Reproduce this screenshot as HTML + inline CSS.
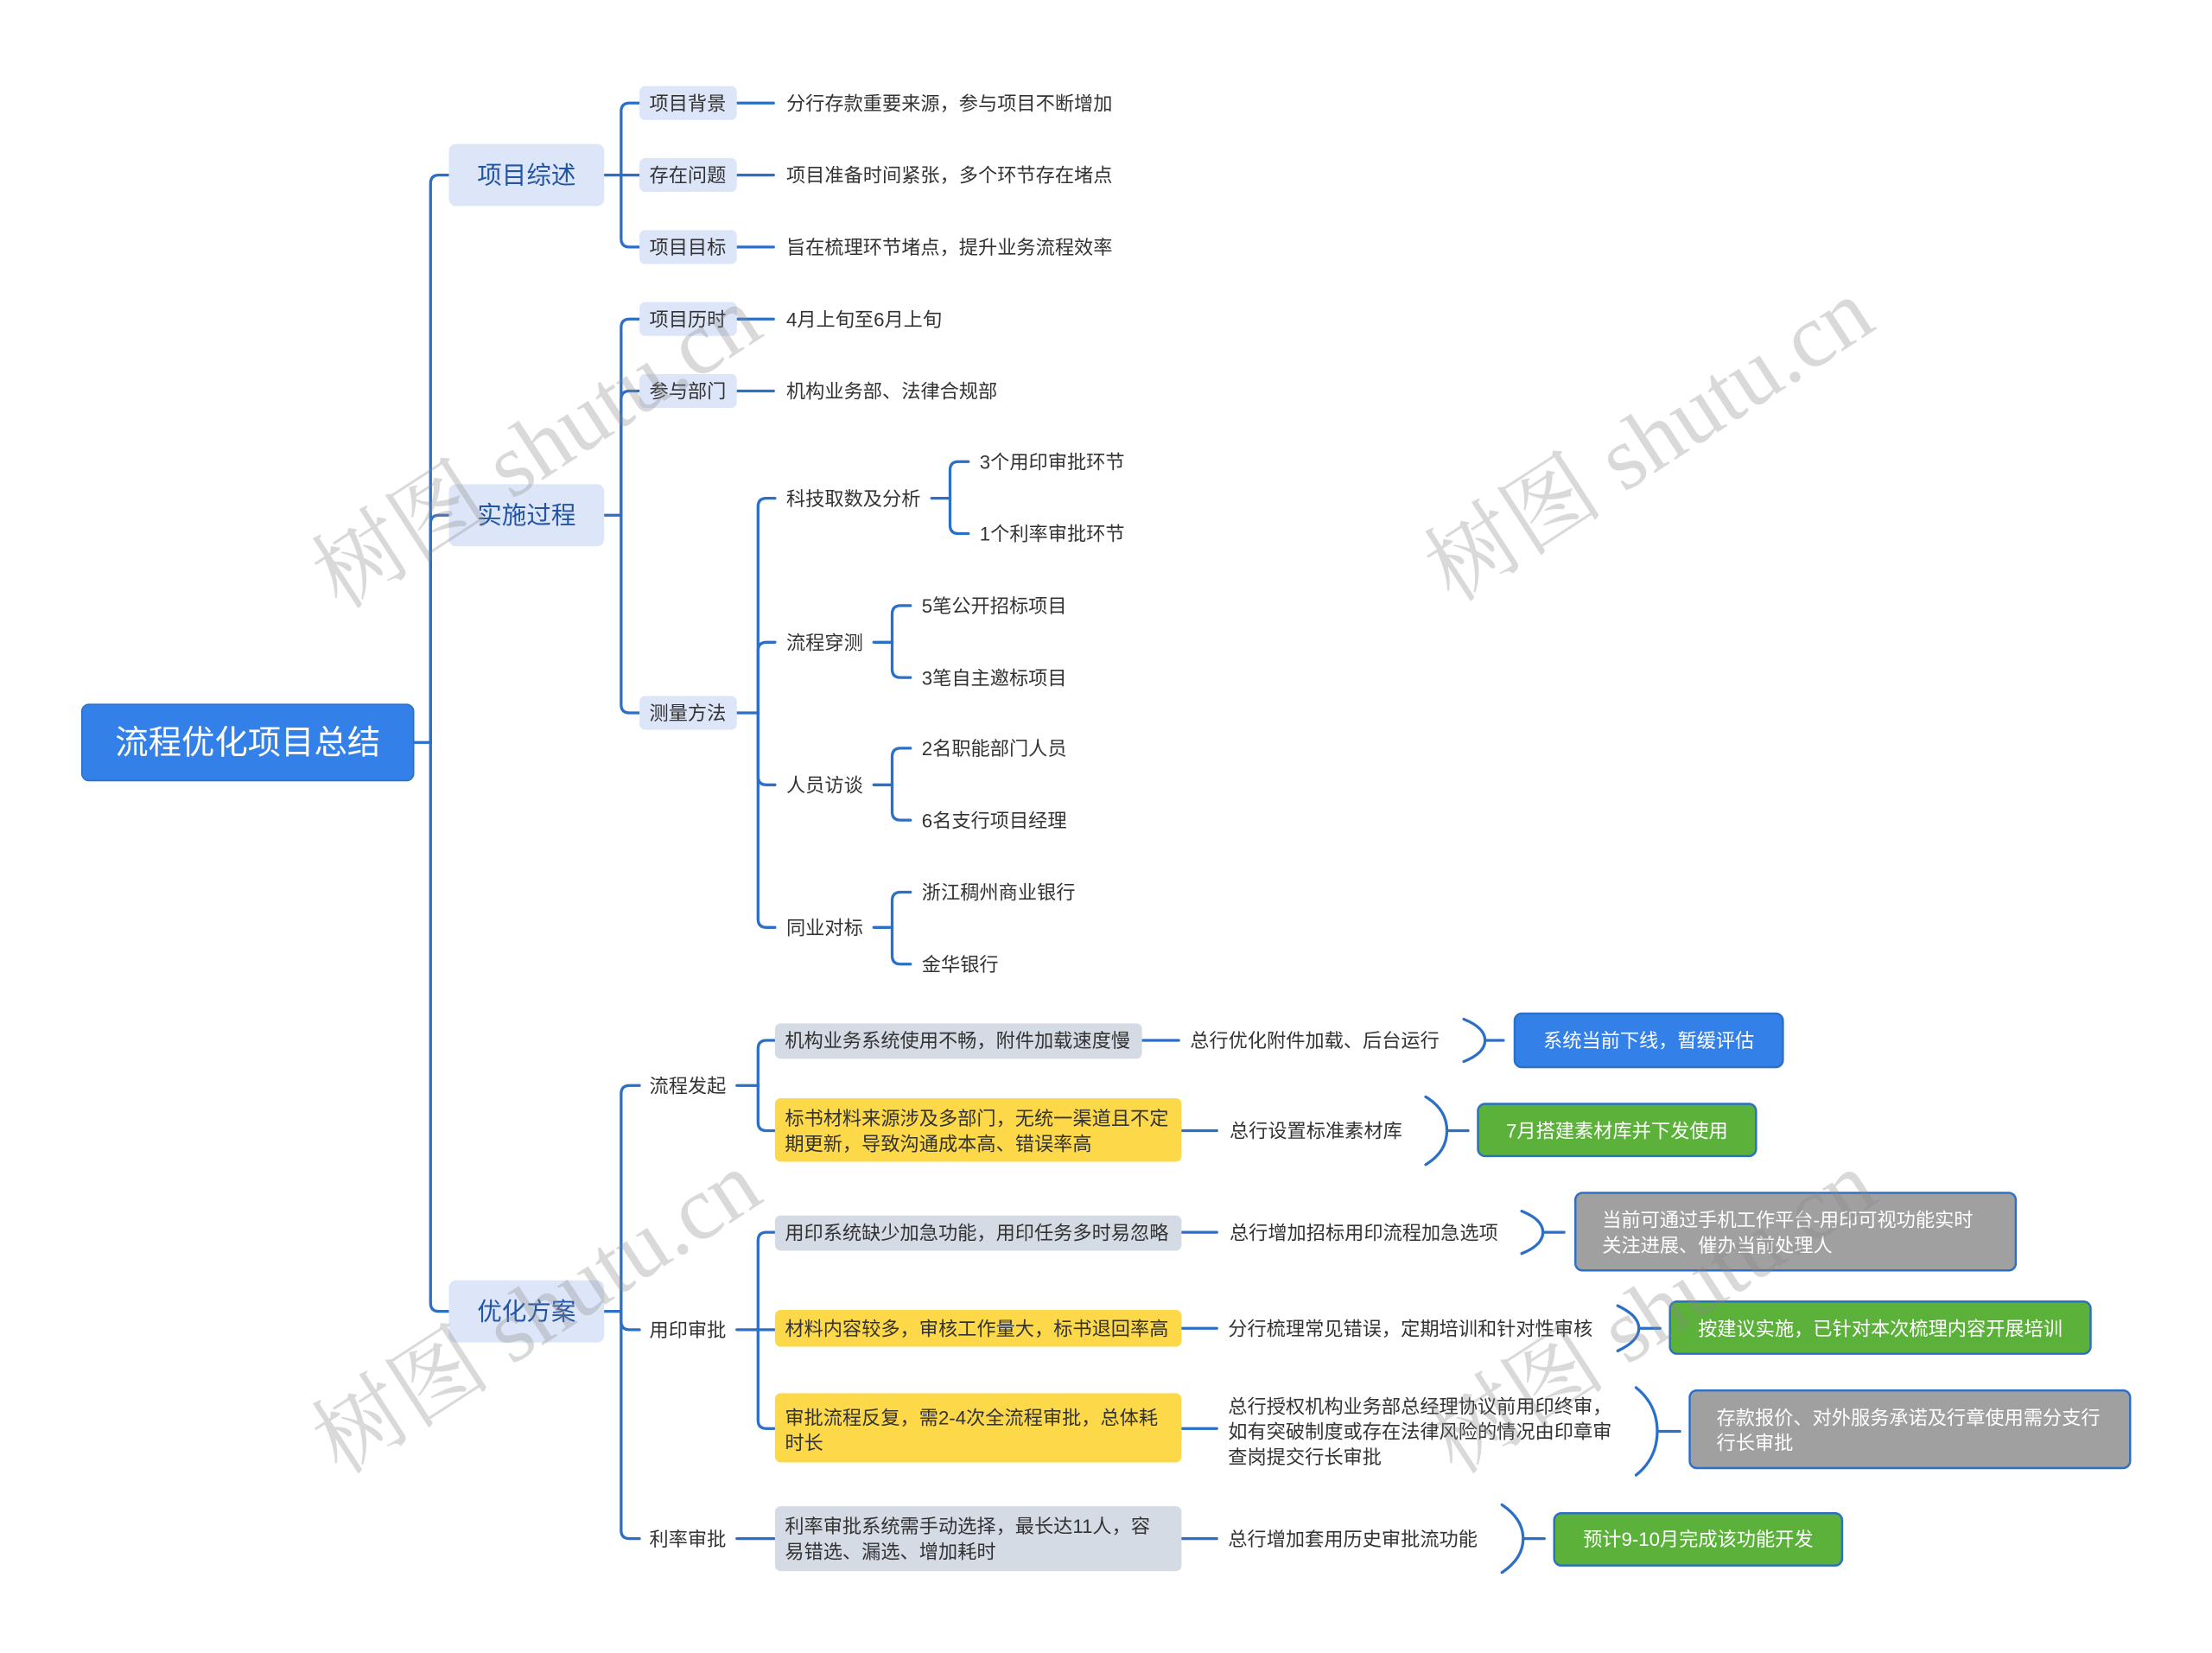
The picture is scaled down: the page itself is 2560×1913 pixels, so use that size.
<!DOCTYPE html>
<html><head><meta charset="utf-8"><style>
html,body{margin:0;padding:0;background:#fff;}
svg{display:block;}
text{font-family:"Liberation Sans","Noto Sans CJK SC",sans-serif;}
</style></head><body>
<svg width="2560" height="1913" viewBox="0 0 1567 1171" preserveAspectRatio="none" xmlns="http://www.w3.org/2000/svg">
<rect width="1600" height="1200" fill="#fff"/>
<g fill="none" stroke="#2b6fc7" stroke-width="2" stroke-linecap="round">
<path d="M293 526 L305 526"/>
<path d="M305 526 L305 130 Q305 124 311 124 L318 124"/>
<path d="M305 526 L305 371 Q305 365 311 365 L318 365"/>
<path d="M305 526 L305 923 Q305 929 311 929 L318 929"/>
<path d="M428 124 L440 124"/>
<path d="M440 124 L440 79 Q440 73 446 73 L453 73"/>
<path d="M440 124 L453 124"/>
<path d="M440 124 L440 169 Q440 175 446 175 L453 175"/>
<path d="M522 73 L548 73"/><path d="M522 124 L548 124"/><path d="M522 175 L548 175"/>
<path d="M428 365 L440 365"/>
<path d="M440 365 L440 232 Q440 226 446 226 L453 226"/>
<path d="M440 365 L440 283 Q440 277 446 277 L453 277"/>
<path d="M440 365 L440 499 Q440 505 446 505 L453 505"/>
<path d="M522 226 L548 226"/><path d="M522 277 L548 277"/>
<path d="M522 505 L537 505"/>
<path d="M537 505 L537 359 Q537 353 543 353 L549 353"/>
<path d="M537 505 L537 461 Q537 455 543 455 L549 455"/>
<path d="M537 505 L537 550 Q537 556 543 556 L549 556"/>
<path d="M537 505 L537 651 Q537 657 543 657 L549 657"/>
<path d="M660 353 L673 353"/>
<path d="M673 353 L673 333 Q673 327 679 327 L686 327"/>
<path d="M673 353 L673 372 Q673 378 679 378 L686 378"/>
<path d="M619 455 L632 455"/>
<path d="M632 455 L632 435 Q632 429 638 429 L645 429"/>
<path d="M632 455 L632 474 Q632 480 638 480 L645 480"/>
<path d="M619 556 L632 556"/>
<path d="M632 556 L632 536 Q632 530 638 530 L645 530"/>
<path d="M632 556 L632 575 Q632 581 638 581 L645 581"/>
<path d="M619 657 L632 657"/>
<path d="M632 657 L632 638 Q632 632 638 632 L645 632"/>
<path d="M632 657 L632 677 Q632 683 638 683 L645 683"/>
<path d="M428 929 L440 929"/>
<path d="M440 929 L440 775 Q440 769 446 769 L453 769"/>
<path d="M440 929 L440 936 Q440 942 446 942 L453 942"/>
<path d="M440 929 L440 1084 Q440 1090 446 1090 L453 1090"/>
<path d="M522 769 L537 769"/>
<path d="M537 769 L537 743 Q537 737 543 737 L549 737"/>
<path d="M537 769 L537 795 Q537 801 543 801 L549 801"/>
<path d="M522 942 L537 942"/>
<path d="M537 942 L537 879 Q537 873 543 873 L549 873"/>
<path d="M537 942 L549 942"/>
<path d="M537 942 L537 1006 Q537 1012 543 1012 L549 1012"/>
<path d="M522 1090 L549 1090"/>
<path d="M809 737 L835 737"/><path d="M837 801 L862 801"/>
<path d="M837 873 L862 873"/><path d="M837 941 L862 941"/>
<path d="M837 1012 L862 1012"/><path d="M837 1090 L862 1090"/>
<path d="M1037 722 Q1052 728 1052 737 Q1052 746 1037 752 M1052 737 L1065 737"/>
<path d="M1010 777 Q1025 786 1025 801 Q1025 816 1010 825 M1025 801 L1040 801"/>
<path d="M1078 858 Q1093 864 1093 873 Q1093 882 1078 888 M1093 873 L1108 873"/>
<path d="M1146 925 Q1161 932 1161 941 Q1161 950 1146 957 M1161 941 L1176 941"/>
<path d="M1159 983 Q1174 995 1174 1014 Q1174 1033 1159 1045 M1174 1014 L1190 1014"/>
<path d="M1064 1066 Q1079 1076 1079 1090 Q1079 1104 1064 1114 M1079 1090 L1094 1090"/>
</g>

<rect x="58" y="499" width="235" height="54" rx="5" fill="#3380e8" stroke="#2b6fc7"/>
<text x="175.5" y="534" font-size="23.5" fill="#fff" text-anchor="middle">流程优化项目总结</text>

<g fill="#dde6f8">
<rect x="318" y="102" width="110" height="44" rx="5"/>
<rect x="318" y="343" width="110" height="44" rx="5"/>
<rect x="318" y="907" width="110" height="44" rx="5"/>
</g>
<g font-size="17.5" fill="#2255a4" text-anchor="middle">
<text x="373" y="130">项目综述</text>
<text x="373" y="371">实施过程</text>
<text x="373" y="935">优化方案</text>
</g>

<g fill="#dde6f8">
<rect x="453" y="61" width="69" height="24" rx="4"/>
<rect x="453" y="112" width="69" height="24" rx="4"/>
<rect x="453" y="163" width="69" height="24" rx="4"/>
<rect x="453" y="214" width="69" height="24" rx="4"/>
<rect x="453" y="265" width="69" height="24" rx="4"/>
<rect x="453" y="493" width="69" height="24" rx="4"/>
</g>
<g font-size="13.6" fill="#333">
<text x="460" y="78">项目背景</text>
<text x="460" y="129">存在问题</text>
<text x="460" y="180">项目目标</text>
<text x="460" y="231">项目历时</text>
<text x="460" y="282">参与部门</text>
<text x="460" y="510">测量方法</text>
<text x="557" y="78">分行存款重要来源，参与项目不断增加</text>
<text x="557" y="129">项目准备时间紧张，多个环节存在堵点</text>
<text x="557" y="180">旨在梳理环节堵点，提升业务流程效率</text>
<text x="557" y="231">4月上旬至6月上旬</text>
<text x="557" y="282">机构业务部、法律合规部</text>
<text x="557" y="358">科技取数及分析</text>
<text x="557" y="460">流程穿测</text>
<text x="557" y="561">人员访谈</text>
<text x="557" y="662">同业对标</text>
<text x="694" y="332">3个用印审批环节</text>
<text x="694" y="383">1个利率审批环节</text>
<text x="653" y="434">5笔公开招标项目</text>
<text x="653" y="485">3笔自主邀标项目</text>
<text x="653" y="535">2名职能部门人员</text>
<text x="653" y="586">6名支行项目经理</text>
<text x="653" y="637">浙江稠州商业银行</text>
<text x="653" y="688">金华银行</text>
<text x="460" y="774">流程发起</text>
<text x="460" y="947">用印审批</text>
<text x="460" y="1095">利率审批</text>
</g>

<rect x="549" y="725" width="260" height="25" rx="4" fill="#d5dbe5"/>
<rect x="549" y="778" width="288" height="45" rx="4" fill="#fdd94a"/>
<rect x="549" y="861" width="288" height="25" rx="4" fill="#d5dbe5"/>
<rect x="549" y="928" width="288" height="26" rx="4" fill="#fdd94a"/>
<rect x="549" y="987" width="288" height="49" rx="4" fill="#fdd94a"/>
<rect x="549" y="1067" width="288" height="46" rx="4" fill="#d5dbe5"/>
<g font-size="13.6" fill="#333">
<text x="556" y="742">机构业务系统使用不畅，附件加载速度慢</text>
<text x="556" y="797">标书材料来源涉及多部门，无统一渠道且不定</text>
<text x="556" y="815">期更新，导致沟通成本高、错误率高</text>
<text x="556" y="878">用印系统缺少加急功能，用印任务多时易忽略</text>
<text x="556" y="946">材料内容较多，审核工作量大，标书退回率高</text>
<text x="556" y="1009">审批流程反复，需2-4次全流程审批，总体耗</text>
<text x="556" y="1027">时长</text>
<text x="556" y="1086">利率审批系统需手动选择，最长达11人，容</text>
<text x="556" y="1104">易错选、漏选、增加耗时</text>
<text x="843" y="742">总行优化附件加载、后台运行</text>
<text x="871" y="806">总行设置标准素材库</text>
<text x="871" y="878">总行增加招标用印流程加急选项</text>
<text x="870" y="946">分行梳理常见错误，定期培训和针对性审核</text>
<text x="870" y="1001">总行授权机构业务部总经理协议前用印终审，</text>
<text x="870" y="1019">如有突破制度或存在法律风险的情况由印章审</text>
<text x="870" y="1037">查岗提交行长审批</text>
<text x="870" y="1095">总行增加套用历史审批流功能</text>
</g>

<g stroke="#2b6fc7" stroke-width="1.5">
<rect x="1073" y="718" width="190" height="38" rx="5" fill="#3380e8"/>
<rect x="1047" y="782" width="197" height="37" rx="5" fill="#5bb13a"/>
<rect x="1116" y="845" width="312" height="55" rx="5" fill="#a0a0a0"/>
<rect x="1183" y="922" width="298" height="37" rx="5" fill="#5bb13a"/>
<rect x="1197" y="985" width="312" height="55" rx="5" fill="#a0a0a0"/>
<rect x="1101" y="1072" width="204" height="37" rx="5" fill="#5bb13a"/>
</g>
<g font-size="13.6" fill="#fff">
<text x="1168" y="742" text-anchor="middle">系统当前下线，暂缓评估</text>
<text x="1145.5" y="806" text-anchor="middle">7月搭建素材库并下发使用</text>
<text x="1135" y="869">当前可通过手机工作平台-用印可视功能实时</text>
<text x="1135" y="887">关注进展、催办当前处理人</text>
<text x="1332" y="946" text-anchor="middle">按建议实施，已针对本次梳理内容开展培训</text>
<text x="1216" y="1009">存款报价、对外服务承诺及行章使用需分支行</text>
<text x="1216" y="1027">行长审批</text>
<text x="1203" y="1095" text-anchor="middle">预计9-10月完成该功能开发</text>
</g>

<g font-size="64" fill="#8a8a8a" fill-opacity="0.32" text-anchor="middle">
<text transform="translate(392,335) rotate(-33)" style="font-family:'Liberation Serif','Noto Serif CJK SC',serif">树图 shutu.cn</text>
<text transform="translate(1180,330) rotate(-33)" style="font-family:'Liberation Serif','Noto Serif CJK SC',serif">树图 shutu.cn</text>
<text transform="translate(392,948) rotate(-33)" style="font-family:'Liberation Serif','Noto Serif CJK SC',serif">树图 shutu.cn</text>
<text transform="translate(1182,948) rotate(-33)" style="font-family:'Liberation Serif','Noto Serif CJK SC',serif">树图 shutu.cn</text>
</g>
</svg>
</body></html>
